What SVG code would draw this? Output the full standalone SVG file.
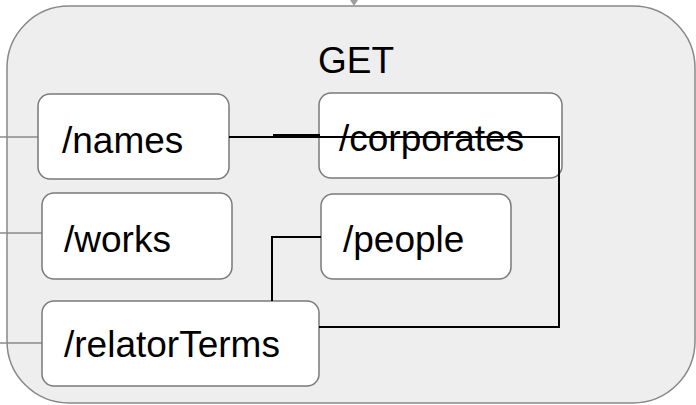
<svg xmlns="http://www.w3.org/2000/svg" width="696" height="405" viewBox="0 0 696 405">
<defs>
<style>
.node rect{fill:#ffffff;stroke:#7a7a7a;stroke-width:1.5}
.node text,.title{font-family:"Liberation Sans",Arial,sans-serif;font-size:37px;fill:#000}
.edge{fill:none;stroke:#000;stroke-width:2}
.gray{fill:none;stroke:#8a8a8a;stroke-width:1.5}
</style>
</defs>
<g id="container">
<rect x="7" y="6" width="688" height="397" rx="62" ry="62" fill="#eeeeee" stroke="#888888" stroke-width="1.5"/>
<text class="title" x="356" y="73" text-anchor="middle">GET</text>
</g>
<g id="external">
<polygon points="350,0 358,0 354,6" fill="#a0a0a0"/>
<path class="gray" d="M0 137 H38 M0 233 H42 M0 343 H42"/>
</g>
<g id="names" class="node">
<rect x="38" y="94" width="191" height="85" rx="12"/>
<text x="62" y="153">/names</text>
</g>
<g id="corporates" class="node">
<rect x="319" y="93" width="243" height="85" rx="12"/>
<text x="339" y="151">/corporates</text>
</g>
<g id="works" class="node">
<rect x="42" y="193" width="190" height="86" rx="12"/>
<text x="64" y="252">/works</text>
</g>
<g id="people" class="node">
<rect x="321" y="194" width="190" height="85" rx="12"/>
<text x="343" y="252">/people</text>
</g>
<g id="relatorTerms" class="node">
<rect x="42" y="301" width="277" height="85" rx="12"/>
<text x="64" y="357">/relatorTerms</text>
</g>
<g id="connectors">
<path class="edge" d="M319 327 H559 V137 H229"/>
<path class="edge" d="M273 135 H320"/>
<path class="edge" d="M272 301 V237 H321"/>
</g>
</svg>
